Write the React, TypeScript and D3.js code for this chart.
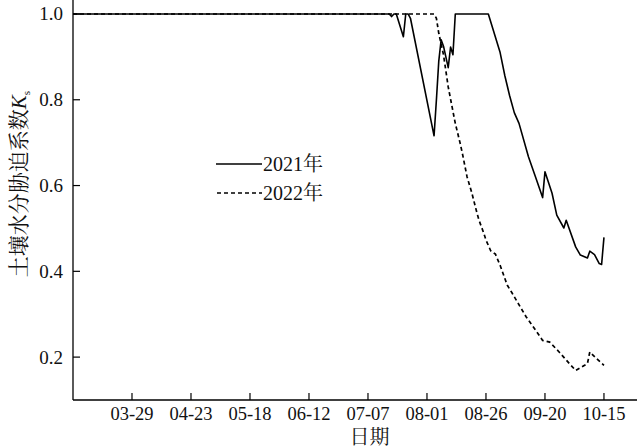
import React from "react";
import * as d3 from "d3";

const dates2021 = ["03-04","07-16","07-17","07-18","07-19","07-22","07-23","07-24","07-25","08-04","08-05","08-06","08-07","08-08","08-10","08-11","08-12","08-13","08-27","09-01","09-03","09-05","09-07","09-09","09-13","09-16","09-19","09-20","09-23","09-25","09-28","09-29","10-03","10-05","10-08","10-09","10-11","10-13","10-14","10-15"];
const values2021 = [1,1,0.994,1,1,0.947,1,1,0.99,0.716,0.80,0.89,0.94,0.925,0.875,0.923,0.905,1,1,0.91,0.856,0.81,0.77,0.745,0.667,0.62,0.572,0.632,0.582,0.531,0.501,0.519,0.457,0.438,0.431,0.447,0.439,0.418,0.416,0.479];

const dates2022 = ["03-04","08-04","08-05","08-06","08-08","08-10","08-13","08-15","08-16","08-18","08-20","08-22","08-23","08-25","08-26","08-28","08-30","09-01","09-04","09-06","09-12","09-16","09-19","09-22","09-26","10-01","10-03","10-08","10-09","10-12","10-15"];
const values2022 = [1,1,0.99,0.955,0.905,0.83,0.745,0.70,0.675,0.62,0.583,0.54,0.52,0.49,0.473,0.448,0.44,0.414,0.368,0.35,0.294,0.263,0.239,0.235,0.212,0.181,0.169,0.185,0.212,0.196,0.181];

const xTickLabels = ["03-29","04-23","05-18","06-12","07-07","08-01","08-26","09-20","10-15"];
const yTickValues = [0.2, 0.4, 0.6, 0.8, 1.0];
const seriesNames = ["2021年", "2022年"];
const xDomain = ["03-04", "10-29"];
const yDomain = [0.1, 1.0326];

const W = 637, H = 448;
const parse = d3.timeParse("%m-%d");
const SERIF = "'Liberation Serif', 'Noto Serif CJK SC', serif";
const txt = (size: number, extra: any = {}) => ({ fontFamily: SERIF, fontSize: size + "px", fill: "#111", ...extra });

export default function App() {
  const x = d3.scaleTime().domain(xDomain.map((d) => parse(d) as Date)).range([73, 637]);
  const y = d3.scaleLinear().domain(yDomain).range([400, 0]);
  const line = d3.line<[Date, number]>().x((d) => x(d[0])).y((d) => y(d[1]));
  const s1 = dates2021.map((d, i) => [parse(d) as Date, values2021[i]] as [Date, number]);
  const s2 = dates2022.map((d, i) => [parse(d) as Date, values2022[i]] as [Date, number]);
  const x0 = x.range()[0], x1 = x.range()[1];
  const yb = y.range()[0], yt = y.range()[1];

  return (
    <div style={{ position: "fixed", left: 0, top: 0 }}>
      <svg width={W} height={H} style={{ display: "block", background: "#fff" }}>
        <rect width={W} height={H} fill="#fff" />
        <path d={line(s2) || ""} fill="none" stroke="#000" strokeWidth={1.7} strokeDasharray="4,3" />
        <path d={line(s1) || ""} fill="none" stroke="#000" strokeWidth={1.6} strokeLinejoin="round" />
        <line x1={x0} x2={x1} y1={yb} y2={yb} stroke="#000" strokeWidth={1.3} />
        <line x1={x0} x2={x0} y1={yt} y2={yb} stroke="#000" strokeWidth={1.3} />
        {xTickLabels.map((t) => {
          const px = x(parse(t) as Date);
          return (
            <g key={t}>
              <line x1={px} x2={px} y1={yb} y2={yb - 7} stroke="#000" strokeWidth={1.2} />
              <text x={px} y={420} textAnchor="middle" style={txt(18.5)}>{t}</text>
            </g>
          );
        })}
        {yTickValues.map((v) => {
          const py = y(v);
          return (
            <g key={v}>
              <line x1={x0} x2={x0 + 7} y1={py} y2={py} stroke="#000" strokeWidth={1.2} />
              <text x={63} y={py + 6.5} textAnchor="end" style={txt(19)}>{v.toFixed(1)}</text>
            </g>
          );
        })}
        <text x={369.5} y={444} textAnchor="middle" style={txt(20)}>日期</text>
        <text transform="translate(26,184) rotate(-90)" textAnchor="middle" style={txt(21)}>
          土壤水分胁迫系数<tspan style={{ fontStyle: "italic" }}>K</tspan><tspan style={{ fontSize: "11px" }} dy={4}>s</tspan>
        </text>
        <line x1={216} x2={262} y1={164} y2={164} stroke="#000" strokeWidth={1.6} />
        <text x={263} y={171} style={txt(20)}>{seriesNames[0]}</text>
        <line x1={217} x2={262} y1={193} y2={193} stroke="#000" strokeWidth={1.6} strokeDasharray="4,3" />
        <text x={263} y={200} style={txt(20)}>{seriesNames[1]}</text>
      </svg>
    </div>
  );
}
